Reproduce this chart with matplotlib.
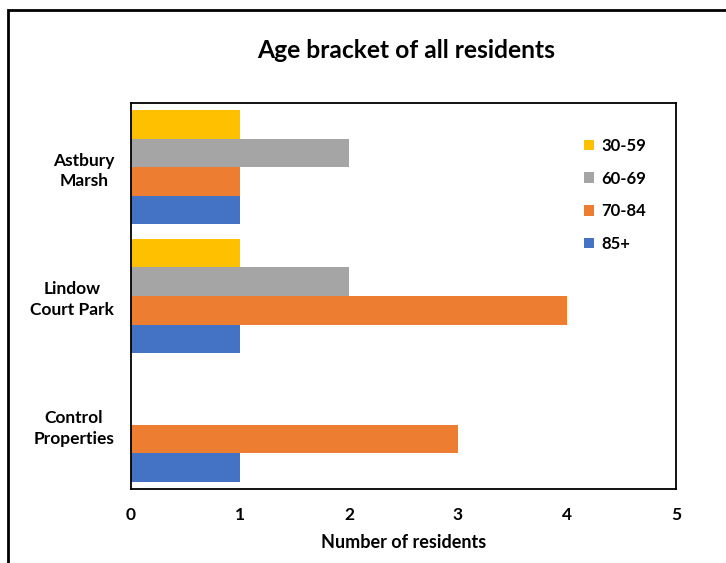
import matplotlib
matplotlib.use("Agg")
import matplotlib.pyplot as plt
from matplotlib.patches import Rectangle, Patch
import numpy as np

plt.rcParams['font.family'] = ['Lato', 'DejaVu Sans']

# Sites (bottom to top, as drawn on the category axis)
sites = ["Control\nProperties", "Lindow\nCourt Park", "Astbury\nMarsh"]
age_brackets = ["85+", "70-84", "60-69", "30-59"]
colors = ["#4472C4", "#ED7D31", "#A5A5A5", "#FFC000"]

# Residents per age bracket, one list per bracket, ordered like `sites`
residents_85_plus = [1, 1, 1]
residents_70_84 = [3, 4, 1]
residents_60_69 = [0, 2, 2]
residents_30_59 = [0, 1, 1]
series = [residents_85_plus, residents_70_84, residents_60_69, residents_30_59]

W, H = 726, 563
fig = plt.figure(figsize=(W / 100, H / 100), dpi=100)
ax = fig.add_axes([131 / W, 1 - 489 / H, (676 - 131) / W, (489 - 103) / H])

n = len(series)
bar_h = 1 / (n + 0.51)
y = np.arange(len(sites))
for i, (vals, col, lab) in enumerate(zip(series, colors, age_brackets)):
    offs = (i - (n - 1) / 2) * bar_h
    ax.barh(y + offs, vals, height=bar_h, color=col, label=lab)

ax.set_xlim(0, 5)
ax.set_ylim(-0.5, len(sites) - 0.5)
ax.set_xticks(range(6))
ax.set_yticks(y)
ax.set_yticklabels(sites, fontsize=12.5, fontweight='bold', linespacing=1.35)
for lbl in ax.get_yticklabels():
    lbl.set_horizontalalignment('right')
    lbl.set_multialignment('center')
ax.tick_params(axis='y', length=0, pad=12)
ax.tick_params(axis='x', length=0, pad=13, labelsize=12.5)
for lbl in ax.get_xticklabels():
    lbl.set_fontweight('bold')
for s in ax.spines.values():
    s.set_linewidth(1.3)
    s.set_color('black')

ax.set_xlabel("Number of residents", fontsize=13, fontweight='bold', labelpad=8)
fig.text(406 / W, 1 - 50 / H, "Age bracket of all residents", ha='center', va='center',
         fontsize=17.7, fontweight='bold')

handles = [Patch(facecolor=c, label=l) for c, l in zip(colors, age_brackets)][::-1]
leg = ax.legend(handles=handles, loc='upper left', bbox_to_anchor=(438 / 545, 1 - 20 / 386),
                frameon=False, handlelength=0.6, handleheight=0.6, handletextpad=0.45,
                labelspacing=1.0, prop={'weight': 'bold', 'size': 12})

fig.patches.append(Rectangle((8 / W, -0.2), 1.5, 1 - 10 / H + 0.2, transform=fig.transFigure,
                             fill=False, edgecolor='black', linewidth=2))

fig.savefig("out.png", dpi=100)
